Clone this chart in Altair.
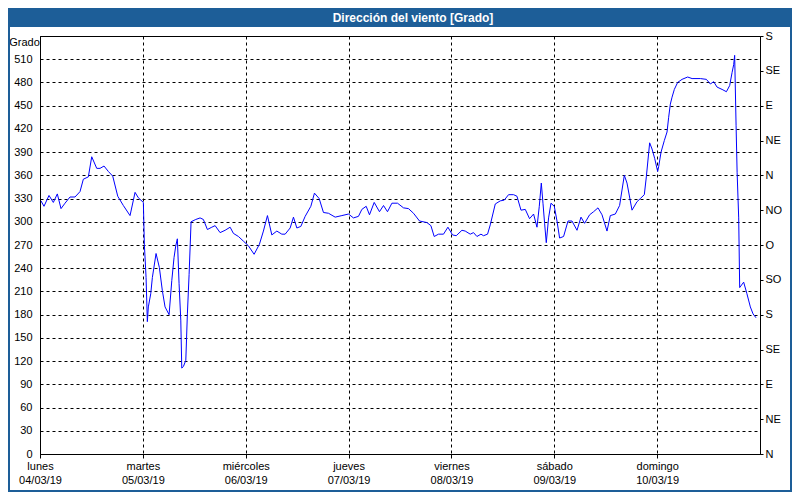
import json
import altair as alt
import pandas as pd

# hours since 04/03/19 00:00 and wind direction in degrees
hours = [0.23, 0.93, 2.10, 3.11, 4.04, 4.90, 5.84, 7.00, 8.17, 9.34, 10.11, 11.28, 12.07, 13.24,
         14.01, 14.94, 15.95, 16.97, 18.14, 19.45, 21.01, 22.18, 22.95, 24.12, 24.35, 24.75,
         25.05, 25.28, 25.84, 26.22, 27.08, 27.85, 28.55, 29.18, 30.12, 30.75, 31.28, 31.68,
         32.05, 32.45, 32.85, 33.08, 33.46, 34.02, 34.39, 34.79, 35.25, 36.35, 37.35, 38.12,
         39.06, 40.09, 40.86, 42.02, 43.19, 44.36, 45.13, 46.30, 47.46, 48.63, 49.96, 51.20,
         52.13, 53.07, 54.09, 55.26, 56.43, 57.20, 58.37, 59.14, 59.93, 60.86, 61.87, 63.20,
         64.04, 65.14, 66.14, 67.31, 68.87, 70.44, 71.98, 73.14, 74.31, 75.10, 76.11, 76.88,
         77.98, 79.21, 80.15, 81.08, 82.11, 83.42, 84.82, 85.98, 87.15, 88.55, 90.28, 91.21,
         91.98, 92.99, 94.15, 95.18, 96.26, 97.12, 98.45, 99.22, 100.39, 101.16, 101.95,
         102.89, 103.49, 104.43, 105.06, 106.23, 107.39, 108.33, 109.33, 110.50, 111.29,
         112.23, 113.23, 114.23, 115.17, 115.96, 116.50, 116.97, 117.36, 117.74, 118.13,
         118.67, 119.23, 120.00, 120.63, 121.24, 122.17, 123.20, 124.13, 125.30, 126.23,
         127.07, 128.24, 129.17, 130.20, 131.14, 132.30, 133.07, 134.24, 135.24, 135.80,
         136.34, 136.97, 138.14, 139.31, 140.08, 141.01, 141.48, 142.25, 142.81, 143.42,
         144.12, 144.35, 144.91, 145.68, 146.31, 146.69, 147.08, 147.48, 148.01, 148.78,
         149.81, 151.12, 152.15, 154.09, 155.49, 156.42, 157.19, 157.98, 159.15, 160.16,
         160.93, 161.49, 161.86, 162.09, 162.42, 162.66, 163.03, 163.26, 164.19, 164.95,
         165.75, 166.38, 167.07]
degrees = [327, 320, 334, 325, 336, 317, 324, 332, 332, 339, 355, 358, 384, 369,
           369, 372, 365, 359, 333, 321, 308, 338, 331, 325, 271, 228,
           171, 190, 207, 228, 259, 241, 211, 190, 180, 224, 254, 269,
           278, 220, 173, 111, 113, 121, 181, 232, 300, 303, 305, 303,
           290, 293, 295, 286, 289, 293, 285, 281, 275, 269, 258, 271,
           288, 308, 283, 288, 284, 284, 292, 306, 292, 294, 307, 320,
           337, 330, 312, 311, 306, 308, 310, 305, 307, 316, 320, 309,
           325, 313, 321, 313, 324, 324, 318, 317, 311, 301, 299, 295,
           281, 284, 284, 293, 283, 282, 289, 288, 284, 286, 281,
           284, 282, 284, 296, 323, 327, 328, 335, 335, 333,
           315, 316, 304, 310, 293, 320, 350, 324, 298, 273,
           305, 324, 320, 301, 279, 281, 301, 301, 289, 306,
           298, 309, 313, 318, 309, 288, 308, 310, 321, 341,
           360, 350, 315, 326, 330, 335, 358, 402, 394, 382,
           365, 371, 390, 405, 416, 435, 452, 461, 471, 480,
           484, 487, 485, 485, 484, 478, 481, 474, 471, 468,
           476, 493, 503, 515, 424, 364, 305, 215, 222, 207,
           190, 181, 176]

day_names = ["domingo", "lunes", "martes", "miércoles", "jueves", "viernes", "sábado"]
compass = ["N", "NE", "E", "SE", "S", "SO", "O", "NO", "N", "NE", "E", "SE", "S"]
left_ticks = list(range(0, 511, 30))
right_ticks = list(range(0, 541, 45))
day_ticks = ["2019-03-04", "2019-03-05", "2019-03-06", "2019-03-07",
             "2019-03-08", "2019-03-09", "2019-03-10"]
title_text = "Dirección del viento [Grado]"

base_time = pd.Timestamp("2019-03-04 00:00")
df = pd.DataFrame({
    "t": [(base_time + pd.Timedelta(hours=h)).strftime("%Y-%m-%dT%H:%M:%S") for h in hours],
    "v": degrees,
})

PAD_L, PAD_T, PAD_R = 32, 28, 32
W, H = 720, 418
TOTAL_W, TOTAL_H = 784, 484
PAD_B = TOTAL_H - PAD_T - H
FONT = "Liberation Sans"
BAR = "#1d5e98"

xscale = alt.Scale(domain=[alt.DateTime(year=2019, month=3, date=4),
                           alt.DateTime(year=2019, month=3, date=11)])
yscale = alt.Scale(domain=[0, 540], nice=False)

x_label_expr = ("[" + json.dumps(day_names, ensure_ascii=False) +
                "[day(datum.value)], timeFormat(datum.value, '%d/%m/%y')]")

xaxis = alt.Axis(
    values=[alt.DateTime(year=int(d[:4]), month=int(d[5:7]), date=int(d[8:])) for d in day_ticks],
    labelExpr=x_label_expr, title=None,
    grid=True, gridColor="black", gridDash=[3, 3], gridOpacity=1, gridWidth=1,
    domainColor="black", tickColor="black", tickSize=4, labelPadding=2,
    labelFont=FONT, labelFontSize=11, labelColor="black", labelLineHeight=14,
    labelOverlap=False, labelFlush=False, labelAlign="center", labelBaseline="top",
)

yaxis_left = alt.Axis(
    values=left_ticks, title="Grado", titleAngle=0, titleX=-16, titleY=6,
    titleAlign="center", titleBaseline="middle", titleFontWeight="normal",
    titleFont=FONT, titleFontSize=11, titleColor="black",
    grid=True, gridColor="black", gridDash=[3, 3], gridOpacity=1, gridWidth=1,
    domainColor="black", ticks=False, labelPadding=8,
    labelFont=FONT, labelFontSize=11, labelColor="black",
)

yaxis_right = alt.Axis(
    orient="right", values=right_ticks,
    labelExpr=json.dumps(compass) + "[round(datum.value/45)]",
    title=None, grid=False, domainColor="black", tickColor="black", tickSize=3,
    labelPadding=2, labelFont=FONT, labelFontSize=11, labelColor="black",
    labelAlign="left",
)

one = pd.DataFrame({"a": [0]})

bar = alt.Chart(one).mark_rect(fill=BAR).encode(
    x=alt.value(-PAD_L), x2=alt.value(TOTAL_W - PAD_L),
    y=alt.value(-PAD_T), y2=alt.value(-PAD_T + 19))
border = alt.Chart(one).mark_rect(fillOpacity=0, stroke=BAR, strokeWidth=2).encode(
    x=alt.value(-PAD_L + 1), x2=alt.value(TOTAL_W - PAD_L - 1),
    y=alt.value(-PAD_T + 1), y2=alt.value(TOTAL_H - PAD_T - 1))
title = alt.Chart(one).mark_text(
    text=title_text, font=FONT, fontSize=12, fontWeight="bold", color="white",
    align="center", baseline="middle").encode(x=alt.value(373), y=alt.value(-PAD_T + 9.5))

line = alt.Chart(df).mark_line(color="#0000ff", strokeWidth=1).encode(
    x=alt.X("t:T", scale=xscale, axis=xaxis),
    y=alt.Y("v:Q", scale=yscale, axis=yaxis_left),
)
right = alt.Chart(df).mark_line(opacity=0).encode(
    x=alt.X("t:T", scale=xscale, axis=xaxis),
    y=alt.Y("v:Q", scale=yscale, axis=yaxis_right),
)

chart = alt.layer(bar, border, title, line, right).resolve_axis(y="independent").properties(
    width=W, height=H,
    autosize=alt.AutoSizeParams(type="none"),
    padding={"left": PAD_L, "top": PAD_T, "right": PAD_R, "bottom": PAD_B},
    background="white",
).configure_view(stroke="black", strokeWidth=1)

chart.save("out.html", embed_options={"renderer": "svg", "actions": False})
